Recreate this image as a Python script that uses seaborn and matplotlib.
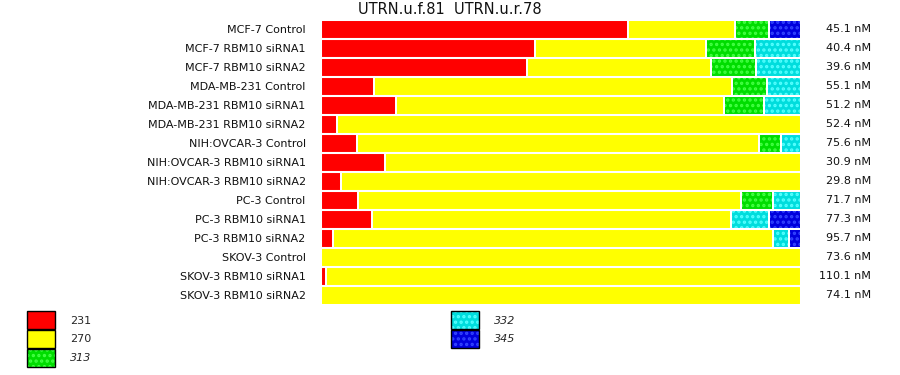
import numpy as np
import pandas as pd
import seaborn as sns
import matplotlib.pyplot as plt
from matplotlib.patches import Patch
from matplotlib.legend_handler import HandlerTuple

samples = [
    "MCF-7 Control", "MCF-7 RBM10 siRNA1", "MCF-7 RBM10 siRNA2",
    "MDA-MB-231 Control", "MDA-MB-231 RBM10 siRNA1", "MDA-MB-231 RBM10 siRNA2",
    "NIH:OVCAR-3 Control", "NIH:OVCAR-3 RBM10 siRNA1", "NIH:OVCAR-3 RBM10 siRNA2",
    "PC-3 Control", "PC-3 RBM10 siRNA1", "PC-3 RBM10 siRNA2",
    "SKOV-3 Control", "SKOV-3 RBM10 siRNA1", "SKOV-3 RBM10 siRNA2",
]
# percent of product per fragment size
pct_231 = [64.0, 44.6, 42.9, 11.0, 15.6, 3.3, 7.5, 13.3, 4.2, 7.7, 10.6, 2.5, 0.0, 1.0, 0.0]
pct_270 = [22.3, 35.6, 38.3, 74.6, 68.3, 96.7, 83.7, 86.7, 95.8, 79.8, 74.8, 91.7, 100.0, 99.0, 100.0]
pct_313 = [7.1, 10.2, 9.4, 7.3, 8.3, 0.0, 4.6, 0.0, 0.0, 6.7, 0.0, 0.0, 0.0, 0.0, 0.0]
pct_332 = [0.0, 9.6, 9.4, 7.1, 7.7, 0.0, 4.2, 0.0, 0.0, 5.8, 7.9, 3.3, 0.0, 0.0, 0.0]
pct_345 = [6.7, 0.0, 0.0, 0.0, 0.0, 0.0, 0.0, 0.0, 0.0, 0.0, 6.7, 2.5, 0.0, 0.0, 0.0]
conc_nm = [45.1, 40.4, 39.6, 55.1, 51.2, 52.4, 75.6, 30.9, 29.8, 71.7, 77.3, 95.7, 73.6, 110.1, 74.1]

sizes = ["231", "270", "313", "332", "345"]
italic_sizes = {"313", "332", "345"}
base_colors = ["#ff0000", "#ffff00", "#00dd00", "#00dddd", "#0000dd"]
dot_colors = [None, None, "#44ff44", "#55ffff", "#3344ff"]

df = pd.DataFrame({"sample": samples, "231": pct_231, "270": pct_270,
                   "313": pct_313, "332": pct_332, "345": pct_345})
cum = df[sizes].cumsum(axis=1)

sns.set_theme(style="white")
plt.rcParams["font.family"] = ["DejaVu Sans"]
plt.rcParams["hatch.linewidth"] = 1.6

fig = plt.figure(figsize=(9, 3.75), dpi=100)
ax = fig.add_axes([321 / 900, 70.5 / 375, 480 / 900, 285 / 375])

# stacked bars drawn back to front as cumulative totals
for i in reversed(range(len(sizes))):
    kws = dict(linewidth=0)
    if dot_colors[i]:
        kws.update(hatch="...", edgecolor=dot_colors[i])
    else:
        kws.update(edgecolor=base_colors[i])
    sns.barplot(x=cum[sizes[i]], y=df["sample"], orient="h", color=base_colors[i],
                saturation=1, width=1.0, errorbar=None, ax=ax, **kws)

# white separators between segments and rows
for i in range(len(sizes)):
    sns.barplot(x=cum[sizes[i]], y=df["sample"], orient="h", fill=False,
                edgecolor="white", linewidth=1.45, width=1.0, errorbar=None, ax=ax)

ax.set_xlim(0, 100)
ax.set_ylim(len(samples) - 0.5, -0.5)
ax.set_xlabel("")
ax.set_ylabel("")
ax.set_xticks([])
for s in ax.spines.values():
    s.set_visible(False)
ax.tick_params(axis="y", length=0, pad=11, labelsize=8, colors="#111111")

for yi, v in enumerate(conc_nm):
    ax.text(1.146, yi, f"{v:.1f} nM", transform=ax.get_yaxis_transform(),
            ha="right", va="center", fontsize=8, color="#111111")

fig.text(0.5, 1 - 10 / 375, "UTRN.u.f.81  UTRN.u.r.78", ha="center", va="center",
         fontsize=10.5, color="#111111")

handles = []
for i in range(len(sizes)):
    fill = Patch(facecolor=base_colors[i], edgecolor=dot_colors[i] or base_colors[i],
                 hatch="..." if dot_colors[i] else None, linewidth=0)
    outline = Patch(facecolor="none", edgecolor="black", linewidth=1.0)
    handles.append((fill, outline))

legend_kws = dict(frameon=False, fontsize=8, handlelength=2.5, handleheight=2.12,
                  handletextpad=1.35, labelspacing=0.08, borderpad=0, borderaxespad=0,
                  loc="upper left", handler_map={tuple: HandlerTuple(ndivide=1)})
leg1 = fig.legend(handles[:3], sizes[:3], bbox_to_anchor=(27 / 900, 1 - 311 / 375), **legend_kws)
leg2 = fig.legend(handles[3:], sizes[3:], bbox_to_anchor=(451 / 900, 1 - 311 / 375), **legend_kws)
for leg in (leg1, leg2):
    for t in leg.get_texts():
        if t.get_text() in italic_sizes:
            t.set_style("italic")

fig.savefig("out.png", dpi=100)
